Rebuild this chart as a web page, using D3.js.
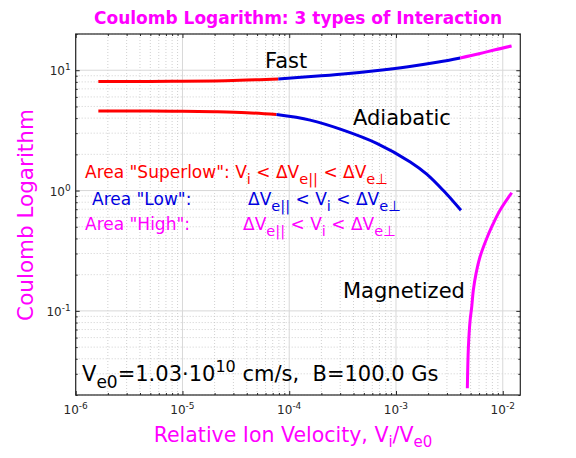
<!DOCTYPE html>
<html>
<head>
<meta charset="utf-8">
<script src="https://cdn.jsdelivr.net/npm/d3@7"></script>
<style>
  body { margin: 0; background: #fff; }
  text { font-family: "DejaVu Sans", sans-serif; }
</style>
</head>
<body>
<div id="chart"></div>
<script>
// relative ion velocity Vi/Ve0 and Coulomb logarithm
const fastRedV  = [1.63e-6, 5e-6, 1e-5, 2e-5, 4e-5, 7.9e-5];
const fastRedL  = [8.06, 8.07, 8.09, 8.14, 8.28, 8.47];
const fastBlueV = [7.9e-5, 1.6e-4, 3.2e-4, 6.4e-4, 1.3e-3, 2.5e-3, 4e-3];
const fastBlueL = [8.47, 8.85, 9.3, 9.9, 10.7, 11.7, 12.65];
const fastMagV  = [4e-3, 6e-3, 8.5e-3, 1.21e-2];
const fastMagL  = [12.65, 13.7, 14.8, 15.9];

const adiaRedV  = [1.63e-6, 5e-6, 1e-5, 2e-5, 4e-5, 7.6e-5];
const adiaRedL  = [4.59, 4.58, 4.56, 4.52, 4.44, 4.28];
const adiaBlueV = [7.6e-5, 1.57e-4, 3.2e-4, 6.6e-4, 1.36e-3, 1.94e-3, 2.78e-3, 4.06e-3];
const adiaBlueL = [4.28, 3.85, 3.18, 2.47, 1.73, 1.37, 1.0, 0.685];

const magnV = [4.66e-3, 4.77e-3, 4.95e-3, 5.12e-3, 5.30e-3, 5.62e-3, 6.12e-3, 6.97e-3, 8.05e-3, 9.43e-3, 1.213e-2];
const magnL = [0.0228, 0.0506, 0.0841, 0.1077, 0.1483, 0.204, 0.2806, 0.386, 0.52, 0.686, 0.959];

const xMajor = [1e-6, 1e-5, 1e-4, 1e-3, 1e-2];
const xExp   = ['-6', '-5', '-4', '-3', '-2'];
const yMajor = [0.1, 1, 10];
const yExp   = ['-1', '0', '1'];

const RED = '#ff0000', BLUE = '#0000e0', MAG = '#ff00ff';

const W = 576, H = 458;
const pLeft = 75.7, pRight = 520.3, pTop = 34, pBottom = 395;

const svg = d3.select('#chart').append('svg')
  .attr('width', W).attr('height', H)
  .style('background', '#fff');

const x = d3.scaleLog().domain([1e-6, 1.46e-2]).range([pLeft, pRight]);
const y = d3.scaleLog().domain([0.02, 20]).range([pBottom, pTop]);

// minor positions: 2..9 inside each decade
function minors(lo, hi) {
  let out = [];
  for (let e = Math.floor(Math.log10(lo)); e <= Math.ceil(Math.log10(hi)); e++) {
    for (let k = 2; k <= 9; k++) {
      let v = k * Math.pow(10, e);
      if (v >= lo * 0.999 && v <= hi * 1.001) out.push(v);
    }
  }
  return out;
}
const xMinor = minors(1e-6, 1.46e-2);
const yMinor = minors(0.02, 20);

// GRID
const grid = svg.append('g');
grid.selectAll('.xmin').data(xMinor).enter().append('line')
  .attr('x1', d => x(d)).attr('x2', d => x(d))
  .attr('y1', pTop).attr('y2', pBottom)
  .style('stroke', '#c4c4c4').style('stroke-width', 0.8).style('stroke-dasharray', '1,2');
grid.selectAll('.ymin').data(yMinor).enter().append('line')
  .attr('y1', d => y(d)).attr('y2', d => y(d))
  .attr('x1', pLeft).attr('x2', pRight)
  .style('stroke', '#c4c4c4').style('stroke-width', 0.8).style('stroke-dasharray', '1,2');
grid.selectAll('.xmaj').data(xMajor).enter().append('line')
  .attr('x1', d => x(d)).attr('x2', d => x(d))
  .attr('y1', pTop).attr('y2', pBottom)
  .style('stroke', '#d8d8d8').style('stroke-width', 1);
grid.selectAll('.ymaj').data(yMajor).enter().append('line')
  .attr('y1', d => y(d)).attr('y2', d => y(d))
  .attr('x1', pLeft).attr('x2', pRight)
  .style('stroke', '#d8d8d8').style('stroke-width', 1);

// AXES (ticks inside, all four sides)
function styleAxis(g) {
  g.select('.domain').remove();
  g.selectAll('line').style('stroke', '#262626');
  g.selectAll('text').remove();
}
svg.append('g').attr('transform', 'translate(0,' + pBottom + ')')
  .call(d3.axisBottom(x).tickValues(xMajor).tickSize(-4)).call(styleAxis);
svg.append('g').attr('transform', 'translate(0,' + pBottom + ')')
  .call(d3.axisBottom(x).tickValues(xMinor).tickSize(-2)).call(styleAxis);
svg.append('g').attr('transform', 'translate(0,' + pTop + ')')
  .call(d3.axisTop(x).tickValues(xMajor).tickSize(-4)).call(styleAxis);
svg.append('g').attr('transform', 'translate(0,' + pTop + ')')
  .call(d3.axisTop(x).tickValues(xMinor).tickSize(-2)).call(styleAxis);
svg.append('g').attr('transform', 'translate(' + pLeft + ',0)')
  .call(d3.axisLeft(y).tickValues(yMajor).tickSize(-4)).call(styleAxis);
svg.append('g').attr('transform', 'translate(' + pLeft + ',0)')
  .call(d3.axisLeft(y).tickValues(yMinor).tickSize(-2)).call(styleAxis);
svg.append('g').attr('transform', 'translate(' + pRight + ',0)')
  .call(d3.axisRight(y).tickValues(yMajor).tickSize(-4)).call(styleAxis);
svg.append('g').attr('transform', 'translate(' + pRight + ',0)')
  .call(d3.axisRight(y).tickValues(yMinor).tickSize(-2)).call(styleAxis);

svg.append('rect')
  .attr('x', pLeft).attr('y', pTop)
  .attr('width', pRight - pLeft).attr('height', pBottom - pTop)
  .style('fill', 'none').style('stroke', '#262626').style('stroke-width', 1.2);

// tick labels 10^n
xMajor.forEach(function(v, i) {
  let t = svg.append('text')
    .attr('x', x(v)).attr('y', pBottom + 19)
    .attr('text-anchor', 'middle')
    .style('font-size', '12px').style('fill', '#262626');
  t.append('tspan').text('10');
  t.append('tspan').attr('dy', -5).style('font-size', '9px').text(xExp[i]);
});
yMajor.forEach(function(v, i) {
  let t = svg.append('text')
    .attr('x', pLeft - 5).attr('y', y(v) + 5)
    .attr('text-anchor', 'end')
    .style('font-size', '12px').style('fill', '#262626');
  t.append('tspan').text('10');
  t.append('tspan').attr('dy', -5).style('font-size', '9px').text(yExp[i]);
});

// CURVES
const line = d3.line()
  .x(d => x(d[0])).y(d => y(d[1]))
  .curve(d3.curveCatmullRom);

function drawCurve(vs, ls, color) {
  svg.append('path')
    .datum(vs.map((v, i) => [v, ls[i]]))
    .attr('d', line)
    .style('fill', 'none')
    .style('stroke', color)
    .style('stroke-width', 3);
}
drawCurve(fastRedV, fastRedL, RED);
drawCurve(fastBlueV, fastBlueL, BLUE);
drawCurve(fastMagV, fastMagL, MAG);
drawCurve(adiaRedV, adiaRedL, RED);
drawCurve(adiaBlueV, adiaBlueL, BLUE);
drawCurve(magnV, magnL, MAG);

// TEXTS
svg.append('text')
  .attr('x', 298).attr('y', 24)
  .attr('text-anchor', 'middle')
  .style('font-size', '17px').style('font-weight', 'bold').style('fill', MAG)
  .text('Coulomb Logarithm: 3 types of Interaction');

svg.append('text')
  .attr('transform', 'translate(33,215) rotate(-90)')
  .attr('text-anchor', 'middle')
  .style('font-size', '21.5px').style('fill', MAG)
  .text('Coulomb Logarithm');

let xl = svg.append('text')
  .attr('x', 293).attr('y', 442)
  .attr('text-anchor', 'middle')
  .style('font-size', '20.5px').style('fill', MAG);
xl.append('tspan').text('Relative Ion Velocity, V');
xl.append('tspan').attr('dy', 5).style('font-size', '15px').text('i');
xl.append('tspan').attr('dy', -5).text('/V');
xl.append('tspan').attr('dy', 5).style('font-size', '15px').text('e0');

function label(txt, px, py) {
  svg.append('text').attr('x', px).attr('y', py)
    .style('font-size', '21px').style('fill', '#000').text(txt);
}
label('Fast', 265, 68);
label('Adiabatic', 353, 125);
label('Magnetized', 343, 298);

// parts: [text, 0 normal | 1 subscript]
function richText(px, py, parts, color, size) {
  let t = svg.append('text').attr('x', px).attr('y', py)
    .style('font-size', size + 'px').style('fill', color)
    .attr('xml:space', 'preserve');
  let sub = false;
  parts.forEach(function(p) {
    let s = t.append('tspan').text(p[0]);
    if (p[1] && !sub) { s.attr('dy', size * 0.35).style('font-size', (size * 0.86) + 'px'); sub = true; }
    else if (!p[1] && sub) { s.attr('dy', -size * 0.35); sub = false; }
  });
}
const fs = 17;
richText(85, 178, [['Area "Superlow": V', 0], ['i', 1], [' < \u0394V', 0], ['e||', 1], [' < \u0394V', 0], ['e\u22a5', 1]], RED, fs);
richText(92, 205, [['Area "Low":', 0]], BLUE, fs);
richText(248, 205, [['\u0394V', 0], ['e||', 1], [' < V', 0], ['i', 1], [' < \u0394V', 0], ['e\u22a5', 1]], BLUE, fs);
richText(85, 230, [['Area "High":', 0]], MAG, fs);
richText(243, 230, [['\u0394V', 0], ['e||', 1], [' < V', 0], ['i', 1], [' < \u0394V', 0], ['e\u22a5', 1]], MAG, fs);

let bt = svg.append('text').attr('x', 82).attr('y', 381)
  .style('font-size', '21px').style('fill', '#000')
  .attr('xml:space', 'preserve');
bt.append('tspan').text('V');
bt.append('tspan').attr('dy', 7).style('font-size', '17px').text('e0');
bt.append('tspan').attr('dy', -7).text('=1.03\u00b710');
bt.append('tspan').attr('dy', -9).style('font-size', '16px').text('10');
bt.append('tspan').attr('dy', 9).text(' cm/s,  B=100.0 Gs');
</script>
</body>
</html>
